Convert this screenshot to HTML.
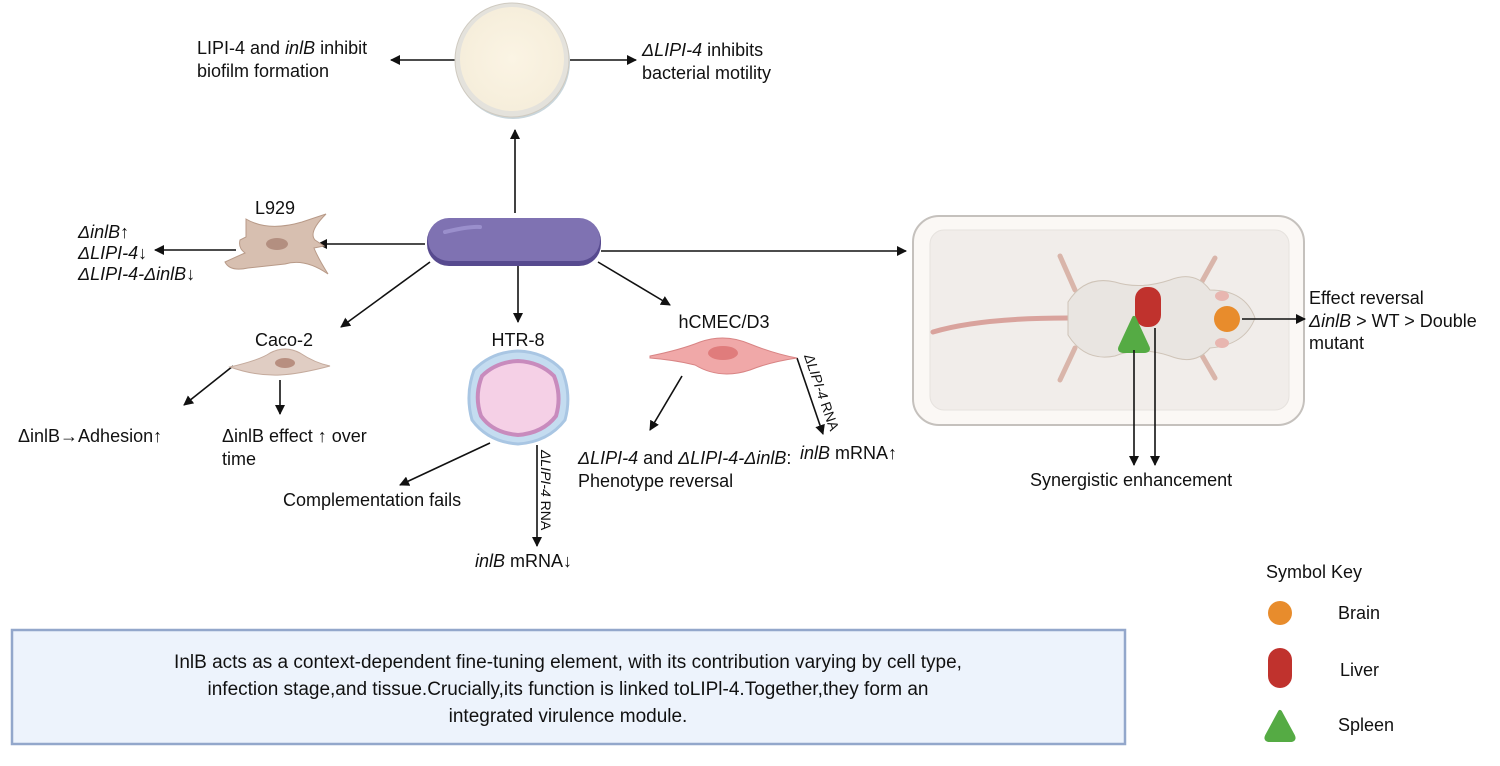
<!DOCTYPE html>
<html><head><meta charset="utf-8"><style>
html,body{margin:0;padding:0;background:#fff}
svg{display:block}
text{font-family:"Liberation Sans",sans-serif;font-size:18px;fill:#111}
.i{font-style:italic}
</style></head><body>
<svg width="1500" height="766" viewBox="0 0 1500 766" xmlns="http://www.w3.org/2000/svg">
<defs>
<marker id="a" markerWidth="10" markerHeight="10" refX="9" refY="5" orient="auto" markerUnits="userSpaceOnUse">
<path d="M0,0 L10,5 L0,10 Z" fill="#111"/></marker>
<radialGradient id="pd" cx="50%" cy="50%" r="50%"><stop offset="0" stop-color="#fbf4e4"/><stop offset="1" stop-color="#f6eedb"/></radialGradient>
</defs>
<!-- mouse box -->
<rect x="913" y="216" width="391" height="209" rx="26" fill="#fbf8f5" stroke="#c5c1bd" stroke-width="2"/>
<rect x="930" y="230" width="359" height="180" rx="14" fill="#f1edea" stroke="#e6e2de"/>
<path d="M933 332 Q980 318 1068 318" stroke="#d9a39d" stroke-width="5" fill="none" stroke-linecap="round"/>
<path d="M1060 256 L1075 290 M1060 380 L1075 348 M1215 258 L1200 285 M1215 378 L1200 352" stroke="#d9b5aa" stroke-width="5" stroke-linecap="round"/>
<path d="M1068 302 Q1085 275 1115 282 Q1140 290 1170 280 Q1195 270 1210 290 Q1245 290 1255 318 Q1245 345 1210 348 Q1195 366 1170 356 Q1140 346 1115 356 Q1085 362 1068 335 Z" fill="#e9e5e1" stroke="#cfc4b8"/>
<ellipse cx="1222" cy="296" rx="7" ry="5" fill="#e8b6b0"/>
<ellipse cx="1222" cy="343" rx="7" ry="5" fill="#e8b6b0"/>
<rect x="1135" y="287" width="26" height="40" rx="12" fill="#c0322d"/>
<path d="M1134 318 L1147 346 Q1150 351 1144 351 L1124 351 Q1118 351 1121 346 Z" fill="#55ab44" stroke="#55ab44" stroke-width="4" stroke-linejoin="round"/>
<circle cx="1227" cy="319" r="13" fill="#e88c2c"/>
<g stroke="#111" stroke-width="1.6" fill="none" marker-end="url(#a)">
<line x1="455" y1="60" x2="391" y2="60"/>
<line x1="570" y1="60" x2="636" y2="60"/>
<line x1="515" y1="213" x2="515" y2="130"/>
<line x1="425" y1="244" x2="318" y2="244"/>
<line x1="236" y1="250" x2="155" y2="250"/>
<line x1="430" y1="262" x2="341" y2="327"/>
<line x1="233" y1="366" x2="184" y2="405"/>
<line x1="280" y1="380" x2="280" y2="414"/>
<line x1="518" y1="262" x2="518" y2="322"/>
<line x1="490" y1="443" x2="400" y2="485"/>
<line x1="537" y1="445" x2="537" y2="546"/>
<line x1="598" y1="262" x2="670" y2="305"/>
<line x1="682" y1="376" x2="650" y2="430"/>
<line x1="797" y1="358" x2="823" y2="434"/>
<line x1="601" y1="251" x2="906" y2="251"/>
<line x1="1134" y1="350" x2="1134" y2="465"/>
<line x1="1155" y1="328" x2="1155" y2="465"/>
<line x1="1242" y1="319" x2="1305" y2="319"/>
</g>
<!-- petri dish -->
<circle cx="513" cy="62" r="57" fill="#c9d6dc"/>
<circle cx="512" cy="60" r="57" fill="#e4e2dc" stroke="#cfcac0"/>
<circle cx="512" cy="59" r="52" fill="url(#pd)"/>
<!-- bacterium -->
<rect x="427" y="219" width="174" height="47" rx="22" fill="#574a8f"/>
<rect x="428" y="218" width="172" height="43" rx="21" fill="#7f72b2"/>
<path d="M445 232 Q470 226 480 227" stroke="#9a8fcc" stroke-width="4" stroke-linecap="round" fill="none"/>
<!-- L929 -->
<path d="M246 219 Q268 232 302 222 L326 214 Q308 232 315 240 L324 246 L314 248 Q318 258 328 274 Q305 258 285 264 L248 268 Q230 272 225 262 Q238 256 245 253 Q238 248 240 240 L246 237 Z" fill="#d7bfb0" stroke="#b89a88"/>
<ellipse cx="277" cy="244" rx="11" ry="6" fill="#b38f80"/>
<!-- Caco-2 -->
<path d="M230 367 Q260 360 270 353 Q285 345 300 353 Q315 363 330 366 Q300 374 280 375 Q255 376 230 367 Z" fill="#e0cdc3" stroke="#c4aa9c"/>
<ellipse cx="285" cy="363" rx="10" ry="5" fill="#b88f80"/>
<!-- HTR-8 -->
<path d="M518 351 Q545 352 562 370 Q572 395 565 420 Q548 442 518 444 Q488 442 472 420 Q465 395 474 370 Q491 352 518 351 Z" fill="#c4dcf0" stroke="#a9c6e3" stroke-width="3"/>
<path d="M518 361 Q540 362 554 376 Q562 396 556 416 Q543 433 518 435 Q493 433 481 416 Q474 396 482 376 Q496 362 518 361 Z" fill="#f5d0e6" stroke="#c88bbd" stroke-width="4"/>
<!-- hCMEC -->
<path d="M650 356 Q680 350 700 342 Q725 333 750 344 Q775 354 797 358 Q770 362 750 370 Q720 380 695 365 Q675 360 650 358 Z" fill="#f0a8a8" stroke="#d88484"/>
<ellipse cx="723" cy="353" rx="15" ry="7" fill="#e07c7c"/>
<!-- bottom box -->
<rect x="12" y="630" width="1113" height="114" fill="#edf3fc" stroke="#93a7cb" stroke-width="2.5"/>
<g text-anchor="middle">
<text x="568" y="668" style="font-size:19px">InlB acts as a context-dependent fine-tuning element, with its contribution varying by cell type,</text>
<text x="568" y="695" style="font-size:19px">infection stage,and tissue.Crucially,its function is linked toLIPl-4.Together,they form an</text>
<text x="568" y="722" style="font-size:19px">integrated virulence module.</text>
</g>
<!-- labels -->
<text x="197" y="54">LIPI-4 and <tspan class="i">inlB</tspan> inhibit</text>
<text x="197" y="77">biofilm formation</text>
<text x="642" y="56"><tspan class="i">ΔLIPI-4</tspan> inhibits</text>
<text x="642" y="79">bacterial motility</text>
<text x="275" y="214" text-anchor="middle">L929</text>
<text x="78" y="238" class="i">ΔinlB<tspan font-style="normal">↑</tspan></text>
<text x="78" y="259" class="i">ΔLIPI-4<tspan font-style="normal">↓</tspan></text>
<text x="78" y="280" class="i">ΔLIPI-4-ΔinlB<tspan font-style="normal">↓</tspan></text>
<text x="284" y="346" text-anchor="middle">Caco-2</text>
<text x="18" y="442">ΔinlB→Adhesion↑</text>
<text x="222" y="442">ΔinlB effect ↑ over</text>
<text x="222" y="465">time</text>
<text x="518" y="346" text-anchor="middle">HTR-8</text>
<text x="283" y="506">Complementation fails</text>
<text x="541" y="450" transform="rotate(90 541 450)" style="font-size:14px"><tspan class="i">ΔLIPI-4</tspan> RNA</text>
<text x="475" y="567"><tspan class="i">inlB</tspan> mRNA↓</text>
<text x="724" y="328" text-anchor="middle">hCMEC/D3</text>
<text x="578" y="464"><tspan class="i">ΔLIPI-4</tspan> and <tspan class="i">ΔLIPI-4-ΔinlB</tspan>:</text>
<text x="578" y="487">Phenotype reversal</text>
<text x="804" y="356" transform="rotate(71 804 356)" style="font-size:14px"><tspan class="i">ΔLIPI-4</tspan> RNA</text>
<text x="800" y="459"><tspan class="i">inlB</tspan> mRNA↑</text>
<text x="1030" y="486">Synergistic enhancement</text>
<text x="1309" y="304">Effect reversal</text>
<text x="1309" y="327"><tspan class="i">ΔinlB</tspan> &gt; WT &gt; Double</text>
<text x="1309" y="349">mutant</text>
<text x="1266" y="578">Symbol Key</text>
<circle cx="1280" cy="613" r="12" fill="#e88c2c"/>
<text x="1338" y="619">Brain</text>
<rect x="1268" y="648" width="24" height="40" rx="12" fill="#c0322d"/>
<text x="1340" y="676">Liver</text>
<path d="M1280 712 L1293 736 Q1295 740 1290 740 L1270 740 Q1265 740 1267 736 Z" fill="#55ab44" stroke="#55ab44" stroke-width="4" stroke-linejoin="round"/>
<text x="1338" y="731">Spleen</text>
</svg>
</body></html>
